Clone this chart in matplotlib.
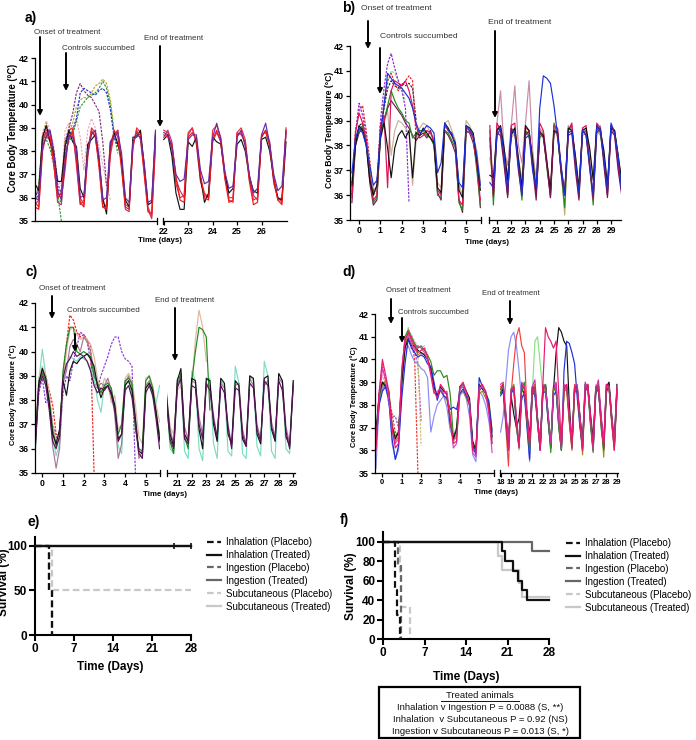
import numpy as np
import matplotlib
matplotlib.use("Agg")
import matplotlib.pyplot as plt
from matplotlib.patches import Rectangle, FancyArrowPatch
from matplotlib.lines import Line2D

plt.rcParams['font.family'] = ['Liberation Sans', 'DejaVu Sans']

# ======================= DATA =======================
# Temperature traces (deg C).
# Each trace = samples starting at a segment start day with a fixed step.
A_L0, A_R0 = -0.5, 22.0
B_L0, B_R0 = -0.33, 20.5
C_L0, C_R0 = -0.33, 20.25
D_L0, D_R0 = -0.33, 18.0
STEP_L = 1 / 6
STEP_RA = 1 / 6
STEP_R = 0.25

# ---- panel a, left segment (treatment period) ----
a_L_red = [35.6, 35.5, 38.0,
           38.7, 38.6, 37.4, 36.0, 36.2, 37.6,
           38.6, 38.8, 37.6, 35.8, 35.6, 38.0,
           38.8, 38.7, 37.3, 35.6, 35.5, 38.0,
           38.9, 38.6, 37.2, 35.6, 35.5, 38.3,
           38.8, 38.7, 37.0, 35.4, 35.3, 38.5]
a_L_red2 = [35.8, 35.6, 38.4,
            38.9, 38.8, 37.8, 36.2, 36.0, 37.2,
            38.9, 39.0, 37.9, 36.0, 35.7, 37.7,
            39.0, 38.8, 37.6, 35.8, 35.6, 37.8,
            38.7, 38.9, 37.5, 35.7, 35.6, 38.1,
            39.0, 38.8, 37.3, 35.6, 35.2, 38.2]
a_L_black = [36.6, 36.3, 38.6,
             39.1, 38.4, 37.9, 36.7, 36.7, 38.2,
             38.9, 38.4, 38.2, 36.4, 36.0, 38.3,
             38.5, 38.7, 37.6, 36.0, 35.3, 38.2,
             38.8, 38.3, 37.6, 35.9, 35.6, 38.6,
             38.6, 38.9, 37.4, 35.7, 35.8, 38.8]
a_L_indigo = [36.0, 35.9, 38.2,
              38.6, 38.9, 38.0, 36.3, 35.9, 37.5,
              38.7, 38.6, 38.1, 36.0, 36.1, 37.9,
              38.7, 38.9, 37.8, 35.9, 36.0, 38.4,
              38.6, 38.8, 37.9, 36.0, 35.8, 38.4,
              38.7, 38.6, 37.5, 35.8, 35.9, 38.9]
a_L_magenta = [35.7, 35.9, 38.5,
               38.8, 38.4, 37.5, 35.8, 35.7, 37.8,
               38.5, 38.9, 37.4, 35.7, 35.9, 38.1,
               38.9, 38.6, 37.5, 35.6, 35.7, 38.4,
               38.7, 38.9, 37.4, 35.5, 35.4, 38.3,
               38.9, 38.5, 37.1, 35.5, 35.1, 38.6]
a_L_purple_pl = [36.0, 36.4, 38.6,
                 39.0, 38.8, 38.0, 36.6, 36.2, 38.4,
                 39.0, 39.6, 40.5, 40.9, 40.6, 40.4,
                 40.3, 40.0, 39.7, 38.4, 36.5]
a_L_blue_pl = [36.2, 36.0, 38.4,
               38.8, 38.7, 37.8, 36.4, 36.1, 38.2,
               38.7, 38.9, 39.4, 40.5, 40.7, 40.6,
               40.5, 40.4, 40.6, 40.7, 40.5, 39.8,
               38.6, 38.2]
a_L_green_pl = [35.9, 36.1, 38.2,
                38.6, 38.5, 37.6, 36.0, 35.8, 38.0,
                38.4, 38.7, 39.3, 39.9, 40.1, 40.3,
                40.4, 40.5, 40.7, 41.0, 40.7, 40.0,
                38.7, 37.9]
a_L_olive_pl = [36.1, 36.3, 38.7,
                39.2, 38.6, 37.9, 36.2, 36.0, 38.5,
                38.8, 39.2, 39.9, 40.2, 40.3, 40.3,
                40.5, 40.8, 40.9, 41.1, 40.9, 40.2,
                38.9]
a_L_green2_pl = [35.8, 36.6, 38.4,
                 38.5, 38.1, 37.4, 36.2, 35.0]
a_L_pink_pl = [36.1, 36.4, 38.8,
               39.3, 38.9, 38.2, 36.8, 36.5, 38.9,
               39.2, 38.8, 39.4, 38.6, 37.2, 38.9,
               39.4, 39.0, 38.2, 37.4, 36.6, 35.9]

# ---- panel a, right segment (days 22-27) ----
a_R_red = [38.7, 38.6, 38.3, 36.9, 35.9, 35.8,
           38.6, 38.8, 38.5, 37.0, 36.0, 35.9,
           38.5, 38.9, 38.4, 36.8, 35.8, 35.9,
           38.7, 38.8, 38.3, 36.7, 35.7, 35.8,
           38.6, 38.9, 38.2, 36.8, 35.9, 35.7,
           38.9]
a_R_red2 = [38.9, 38.8, 38.1, 36.6, 36.0, 36.1,
            38.8, 39.0, 38.4, 36.8, 36.2, 36.0,
            38.9, 39.1, 38.6, 37.1, 35.9, 35.8,
            38.8, 39.0, 38.5, 36.9, 35.9, 36.0,
            38.7, 38.8, 38.3, 36.6, 36.0, 35.8,
            39.0]
a_R_black = [38.5, 38.7, 37.8, 36.2, 35.5, 35.5,
             38.4, 38.2, 38.6, 36.9, 35.8, 36.2,
             38.6, 38.4, 38.3, 37.0, 36.2, 36.4,
             38.3, 38.5, 38.0, 36.9, 36.3, 36.2,
             38.5, 38.6, 38.0, 36.8, 36.0, 35.9,
             38.4]
a_R_indigo = [38.8, 38.7, 38.2, 37.0, 36.7, 36.8,
              38.5, 38.7, 38.7, 37.2, 36.6, 36.7,
              38.6, 39.2, 38.5, 37.1, 36.4, 36.5,
              38.6, 38.9, 38.2, 37.0, 36.2, 36.4,
              38.7, 39.2, 38.3, 37.0, 36.3, 36.5,
              38.8]
a_R_magenta = [38.6, 38.9, 38.4, 36.8, 36.3, 36.0,
               38.7, 39.0, 38.3, 36.7, 36.1, 36.0,
               38.4, 38.8, 38.4, 36.9, 36.0, 36.0,
               38.8, 38.7, 38.4, 36.8, 36.1, 35.9,
               38.6, 38.9, 38.4, 36.7, 35.9, 36.0,
               38.9]

# ---- panel b, left ----
b_L_green = [36.0, 38.2,
             38.6, 38.8, 38.1, 36.9, 35.7, 35.9,
             38.4, 39.0, 39.6, 40.2, 39.8, 39.5,
             39.3, 39.0, 38.9, 38.3, 38.5, 38.6,
             38.6, 38.4, 38.3, 38.0, 36.0, 35.9,
             38.6, 38.5, 38.2, 37.9, 35.7, 35.4,
             38.5, 38.6, 38.3, 37.0, 35.6]
b_L_blue = [36.9, 38.3,
            38.7, 38.5, 38.0, 37.2, 36.4, 36.6,
            38.4, 39.6, 40.9, 40.7, 40.5, 40.4,
            40.3, 40.1, 39.9, 39.5, 38.9, 38.5,
            38.6, 38.8, 38.7, 38.5, 36.9, 37.3,
            38.9, 38.6, 38.5, 38.0, 36.5, 36.3,
            38.8, 38.6, 38.4, 37.6, 36.4]
b_L_black = [36.4, 38.0,
             38.8, 38.6, 38.0, 36.6, 36.0, 36.4,
             38.3, 38.9, 37.9, 36.7, 37.9, 38.4,
             38.6, 38.3, 38.6, 36.7, 38.5, 38.4,
             38.7, 38.5, 38.3, 38.1, 36.3, 36.1,
             38.9, 38.7, 38.4, 38.1, 36.2, 35.9,
             38.8, 38.7, 38.5, 37.4, 36.2]
b_L_crimson = [35.9, 38.5,
               39.3, 38.9, 38.2, 36.8, 35.8, 36.0,
               38.8, 39.2, 36.3, 40.2, 40.6, 40.5,
               40.4, 40.6, 40.2, 39.6, 38.8, 38.3,
               38.4, 38.6, 38.5, 38.2, 36.2, 36.0,
               38.8, 38.6, 38.4, 38.0, 35.8, 35.6,
               38.7, 38.6, 38.3, 37.2, 35.8]
b_L_plum = [35.7, 38.0,
            38.5, 38.7, 38.2, 36.5, 35.6, 35.8,
            38.5, 39.0, 39.5, 39.8, 39.6, 39.4,
            39.2, 38.9, 38.7, 38.4, 38.2, 38.4,
            38.5, 38.3, 38.6, 38.1, 36.1, 35.8,
            38.6, 38.4, 38.1, 37.7, 35.8, 35.3,
            38.6, 38.5, 38.1, 37.3, 35.5]
b_L_tan = [36.2, 38.1,
           38.6, 38.7, 38.3, 37.0, 36.3, 36.1,
           38.2, 38.9, 39.4, 37.6, 38.6, 39.0,
           38.9, 38.7, 38.5, 36.4, 38.2, 38.7,
           38.9, 38.8, 38.5, 38.3, 36.5, 36.3,
           38.9, 39.0, 38.6, 38.2, 36.4, 36.0,
           39.0, 38.8, 38.4, 37.8, 36.5]
b_L_purple_pl = [36.3, 38.5,
                 39.7, 39.2, 38.4, 37.2, 36.1, 36.3,
                 39.0, 40.3, 41.3, 41.7, 41.1, 40.6,
                 40.2, 39.5, 35.7]
b_L_red_pl = [36.0, 38.6,
              39.4, 39.6, 38.6, 37.4, 36.0, 36.4,
              38.7, 39.7, 40.6, 40.9, 40.5, 40.2,
              40.4, 40.6, 40.8, 40.6, 38.3]
b_L_black_pl = [36.5, 38.2,
                38.8, 38.9, 38.2, 37.0, 36.2, 36.3,
                38.7, 39.5, 40.3, 40.6, 40.4, 40.3,
                40.5, 40.4, 40.5, 40.3, 39.0]
b_L_lgreen_pl = [36.1, 38.0,
                 38.6, 38.7, 38.3, 37.0, 36.0, 36.1,
                 38.6, 39.5, 40.5, 41.0, 40.9, 40.6,
                 40.3, 39.8]

# ---- panel b, right ----
b_R_green = [38.6, 35.6,
             38.7, 38.6, 37.4, 36.0, 38.5, 38.7, 37.2, 35.8,
             38.6, 38.4, 37.5, 36.1, 38.3, 38.5, 37.1, 36.0,
             38.9, 38.4, 36.9, 35.5, 38.6, 38.8, 37.3, 35.9,
             38.5, 38.6, 37.2, 35.6, 38.7, 38.5, 37.4, 36.0,
             38.8, 38.6, 37.5, 36.2]
b_R_blue = [36.5, 36.3,
            38.4, 38.7, 37.6, 36.2, 38.6, 38.5, 37.3, 36.0,
            38.3, 38.4, 37.0, 36.3, 39.5, 40.8, 40.7, 40.5,
            39.6, 38.4, 37.2, 36.0, 38.5, 38.6, 37.4, 36.1,
            38.6, 38.4, 37.3, 36.0, 38.8, 38.6, 37.5, 36.2,
            38.9, 38.5, 37.6, 36.1]
b_R_black = [36.8, 36.7,
             38.6, 38.8, 37.9, 36.6, 38.4, 38.7, 37.5, 36.3,
             38.8, 38.6, 37.4, 36.1, 38.5, 38.4, 37.3, 36.2,
             38.6, 38.5, 37.0, 36.0, 38.7, 38.6, 37.6, 36.3,
             38.6, 38.7, 37.9, 36.6, 38.8, 38.6, 37.8, 36.4,
             38.7, 38.6, 37.6, 36.6]
b_R_crimson = [38.8, 35.9,
               38.9, 38.6, 37.5, 36.0, 38.8, 38.9, 37.2, 36.1,
               38.7, 38.6, 37.3, 36.2, 38.9, 38.6, 37.4, 35.9,
               38.8, 38.7, 37.1, 36.1, 38.6, 38.9, 37.4, 36.0,
               38.7, 38.8, 37.3, 35.8, 38.9, 38.7, 37.5, 36.0,
               38.8, 38.5, 37.2, 36.2]
b_R_plum = [38.3, 36.0,
            38.5, 38.4, 37.2, 35.9, 38.7, 38.5, 37.0, 36.0,
            38.4, 38.6, 37.1, 35.8, 38.6, 38.3, 37.2, 35.9,
            38.5, 38.6, 36.9, 36.0, 38.4, 38.5, 37.0, 35.8,
            38.6, 38.4, 37.1, 35.9, 38.5, 38.7, 37.2, 35.9,
            38.6, 38.4, 37.0, 36.0]
b_R_tan = [37.5, 36.5,
           38.4, 38.6, 37.8, 36.8, 38.3, 38.5, 37.5, 36.6,
           38.6, 38.3, 37.6, 36.4, 38.4, 38.6, 37.3, 36.3,
           38.7, 38.3, 37.1, 35.2, 38.5, 38.6, 37.6, 36.2,
           38.4, 38.5, 37.8, 36.7, 38.6, 38.4, 37.6, 36.5,
           38.5, 38.6, 37.4, 36.7]
b_R_mauve = [38.0, 36.3,
             38.9, 40.2, 37.8, 37.2, 38.8, 40.4, 38.0, 37.3,
             38.9, 40.6, 37.8, 36.6, 38.7, 38.5, 37.2, 36.1,
             38.6, 38.4, 37.0, 36.0, 38.8, 38.6, 37.3, 36.2,
             38.7, 38.5, 37.1, 36.0, 38.6, 38.8, 37.4, 36.2,
             38.7, 38.5, 37.3, 36.3]

# ---- panel c, left ----
c_L_green = [36.2, 38.8,
             39.1, 38.8, 38.0, 36.8, 36.1, 36.5,
             39.2, 40.3, 41.0, 41.0, 40.0, 39.9,
             40.0, 39.9, 39.8, 39.0, 38.7, 38.3,
             38.6, 38.7, 38.5, 37.7, 36.6, 37.0,
             38.8, 38.9, 38.7, 36.8, 36.0, 35.9,
             38.8, 39.0, 38.5, 37.4, 36.3]
c_L_black = [36.4, 38.7,
             39.3, 38.9, 37.9, 36.6, 36.2, 36.8,
             38.8, 38.2, 39.2, 39.6, 39.5, 39.7,
             39.8, 39.9, 39.7, 39.4, 38.6, 38.1,
             38.5, 38.6, 38.3, 37.8, 36.4, 36.6,
             38.6, 38.8, 38.4, 37.2, 35.9, 35.8,
             38.5, 38.7, 38.4, 37.5, 36.4]
c_L_plum = [36.1, 38.5,
            39.0, 38.6, 37.6, 36.3, 36.0, 36.5,
            38.9, 39.5, 39.7, 40.0, 39.8, 39.9,
            39.8, 39.6, 39.2, 38.6, 38.3, 38.5,
            38.4, 38.6, 38.2, 37.6, 36.3, 36.6,
            38.4, 38.6, 38.1, 37.0, 35.8, 35.6,
            38.3, 38.6, 38.2, 37.2, 36.0]
c_L_tan = [36.5, 38.9,
           39.4, 39.0, 38.3, 37.0, 36.3, 36.7,
           38.8, 40.0, 40.9, 41.0, 40.7, 40.5,
           40.6, 40.5, 40.3, 39.8, 38.9, 38.3,
           38.9, 38.7, 37.9, 38.2, 36.8, 37.0,
           38.9, 39.1, 38.8, 37.8, 36.5, 36.2,
           38.9, 39.0, 38.6, 37.8, 37.1]
c_L_mauve = [36.3, 38.6,
             39.2, 38.7, 37.8, 36.1, 35.2, 36.0,
             38.7, 39.2, 40.2, 40.5, 40.3, 40.0,
             40.6, 40.4, 40.0, 39.2, 38.5, 38.7,
             38.6, 38.9, 38.4, 37.4, 35.6, 36.2,
             38.7, 39.0, 38.6, 37.3, 35.6, 35.9,
             38.6, 38.8, 38.3, 37.5, 36.6]
c_L_teal = [36.0, 38.8,
            40.1, 39.0, 38.0, 36.5, 35.7, 36.2,
            38.7, 39.4, 39.8, 39.7, 39.6, 39.8,
            39.7, 39.6, 39.3, 38.9, 38.0, 37.5,
            38.6, 38.5, 38.2, 37.5, 36.1, 35.8,
            38.6, 38.8, 38.2, 37.0, 35.8, 35.7,
            38.5, 38.7, 38.1, 37.9, 38.6]
c_L_red_pl = [36.3, 38.9,
              39.1, 39.0, 38.4, 37.8, 36.6, 36.5,
              39.0, 40.3, 41.5, 41.3, 40.8, 40.6,
              40.7, 40.5, 40.2, 35.0]
c_L_purple_pl = [36.4, 38.3,
                 38.9, 37.9, 38.2, 37.0, 36.5, 36.3,
                 38.3, 39.0, 38.8, 39.6, 40.2, 40.8,
                 40.7, 40.4, 39.6, 38.7, 38.5, 39.0,
                 39.4, 39.8, 40.3, 40.6, 40.6, 40.0,
                 39.7, 39.6, 39.4, 35.0]

# ---- panel c, right ----
c_R_black = [38.2, 36.6, 36.1,
             38.8, 39.3, 36.6, 36.3, 38.9, 38.8, 36.8, 36.0,
             38.9, 38.8, 37.0, 36.3, 38.9, 38.7, 36.6, 36.2,
             38.8, 38.6, 36.4, 36.1, 39.0, 38.9, 36.6, 36.2,
             38.9, 39.0, 36.8, 36.3, 39.1, 38.8, 36.5, 36.1,
             38.8]
c_R_plum = [38.0, 36.4, 36.0,
            38.5, 38.9, 36.4, 36.2, 38.6, 38.5, 37.0, 36.4,
            38.7, 38.4, 37.2, 36.5, 38.6, 38.3, 36.9, 36.0,
            38.5, 38.4, 36.6, 36.1, 38.7, 38.5, 36.8, 36.3,
            38.8, 38.6, 36.9, 36.4, 38.8, 38.4, 36.7, 36.0,
            38.6]
c_R_mauve = [38.3, 36.8, 36.2,
             38.7, 38.9, 36.9, 36.4, 38.8, 38.7, 37.3, 36.6,
             38.5, 38.6, 37.4, 36.4, 38.7, 38.5, 37.0, 36.1,
             38.6, 38.7, 36.8, 36.2, 38.9, 38.6, 37.0, 36.4,
             38.6, 38.8, 37.1, 36.5, 38.9, 38.7, 36.9, 36.2,
             38.7]
c_R_teal = [38.4, 36.0, 35.8,
            38.9, 39.0, 35.9, 35.6, 39.2, 38.8, 36.0, 35.5,
            38.8, 38.9, 36.2, 35.6, 38.8, 38.6, 35.9, 35.7,
            39.4, 38.7, 35.8, 35.6, 39.0, 38.8, 36.1, 35.7,
            39.6, 39.0, 35.9, 35.6, 38.9, 38.8, 36.0, 35.8,
            38.8]
c_R_green = [38.0, 36.3, 35.8,
             38.6, 39.1, 36.5, 36.0, 38.8, 40.0, 41.0, 40.9,
             40.6, 37.6]
c_R_tan = [38.2, 36.9, 36.6,
           38.4, 38.6, 36.8, 36.4, 38.6, 40.5, 41.7, 41.0,
           39.6]

# ---- panel d, left ----
d_L_black = [36.8, 38.5,
             39.0, 38.8, 38.4, 37.0, 36.5, 36.8,
             39.0, 40.5, 40.9, 40.6, 40.6, 40.4,
             40.3, 40.2, 40.0, 39.6, 38.8, 38.4,
             38.8, 38.6, 38.5, 37.2, 36.5, 36.9,
             38.8, 38.9, 38.6, 38.3, 36.4, 36.0,
             38.9, 38.7, 38.5, 37.9, 36.6]
d_L_blue = [36.3, 38.0,
            38.6, 38.8, 38.2, 36.5, 35.6, 36.2,
            38.3, 39.8, 40.9, 40.5, 40.3, 40.1,
            40.2, 40.1, 39.8, 39.7, 39.0, 38.2,
            38.7, 38.4, 38.3, 37.8, 37.9, 37.8,
            38.5, 38.7, 38.4, 38.0, 36.2, 35.8,
            39.2, 38.8, 38.6, 38.1, 36.8]
d_L_green = [36.5, 38.3,
             39.0, 38.9, 38.6, 37.1, 36.6, 36.8,
             39.3, 41.0, 41.3, 41.0, 40.7, 40.5,
             40.6, 40.4, 40.2, 39.9, 39.3, 39.5,
             39.5, 39.2, 39.3, 38.5, 36.6, 37.0,
             38.7, 38.8, 38.5, 38.1, 36.2, 36.0,
             38.6, 38.8, 38.5, 38.2, 36.9]
d_L_crimson = [36.0, 38.6,
               40.0, 39.3, 38.6, 37.0, 36.1, 36.3,
               39.5, 40.8, 41.2, 40.9, 40.6, 40.3,
               40.4, 40.5, 40.1, 39.4, 38.6, 38.3,
               38.9, 38.7, 38.4, 37.4, 36.3, 36.4,
               38.8, 39.0, 38.6, 38.0, 36.0, 35.9,
               38.8, 38.9, 38.6, 37.8, 36.3]
d_L_lblue = [35.2, 38.2,
             38.7, 38.9, 38.3, 36.3, 35.6, 36.0,
             38.9, 40.4, 40.6, 40.2, 39.9, 39.8,
             39.6, 39.5, 39.2, 36.8, 37.5, 38.0,
             38.2, 38.4, 37.9, 36.9, 36.5, 36.7,
             38.4, 38.6, 38.3, 37.5, 35.8, 35.5,
             38.6, 38.4, 38.0, 37.3, 36.3]
d_L_olive = [36.4, 38.4,
             38.8, 39.1, 38.5, 36.8, 36.4, 36.6,
             38.9, 40.6, 41.0, 40.8, 40.5, 40.2,
             40.3, 40.2, 40.0, 39.5, 38.7, 38.5,
             38.6, 38.4, 38.2, 37.6, 36.4, 36.6,
             38.5, 38.6, 38.3, 38.0, 36.2, 36.1,
             38.5, 38.6, 38.3, 38.0, 36.5]
d_L_pink = [36.2, 38.4,
            39.6, 39.1, 38.3, 36.9, 36.3, 36.5,
            39.6, 40.9, 41.1, 40.7, 40.4, 40.6,
            40.5, 40.3, 40.0, 39.3, 38.5, 38.6,
            38.7, 38.5, 38.6, 37.5, 36.1, 36.3,
            38.7, 38.9, 38.5, 38.1, 35.9, 35.7,
            38.7, 38.8, 38.5, 37.6, 35.9]
d_L_red_pl = [36.2, 38.5, 39.8, 39.0, 38.3, 37.6, 36.8, 36.5,
              39.2, 40.6, 41.2, 40.8, 40.0, 35.0]
d_L_olive_pl = [36.6, 38.3, 38.9, 38.7, 38.2, 37.2, 36.6, 36.9,
                39.0, 40.8, 41.4, 41.0, 40.6, 40.2, 36.2]
d_L_purple_pl = [36.4, 38.1, 38.7, 38.9, 38.0, 37.5, 37.5, 37.0,
                 38.8, 40.7, 41.0, 40.6, 40.3, 39.8, 37.3]
d_L_pink_pl = [36.5, 38.6, 39.3, 38.8, 38.1, 37.0, 36.6, 36.9,
               39.2, 40.9, 41.3, 41.1, 40.8, 40.6, 40.5, 40.6, 40.2]

# ---- panel d, right ----
d_R_green = [38.5, 38.9, 37.3, 36.0, 38.7, 38.8, 37.0, 36.1,
             38.6, 39.0, 37.2, 36.0, 38.5, 38.7, 37.1, 36.1,
             38.8, 38.9, 37.4, 35.9, 38.6, 38.8, 37.0, 36.0,
             38.7, 38.9, 37.3, 36.1, 38.5, 38.8, 37.2, 36.0,
             38.9, 38.7, 37.1, 35.9, 38.6, 38.9, 37.0, 36.0,
             38.7, 38.8, 37.4, 36.2, 38.6]
d_R_olive = [38.7, 38.6, 37.6, 36.2, 38.5, 38.9, 37.4, 36.3,
             38.8, 38.7, 37.5, 36.2, 38.6, 38.9, 37.3, 36.1,
             38.5, 38.8, 37.6, 36.3, 38.8, 38.6, 37.1, 36.0,
             38.6, 38.8, 37.5, 36.2, 38.7, 38.6, 37.3, 35.8,
             38.6, 38.9, 37.2, 36.1, 38.8, 38.7, 37.5, 35.7,
             38.5, 38.9, 37.3, 36.0, 38.4]
d_R_magenta = [38.9, 39.0, 37.7, 36.3, 38.7, 38.8, 37.5, 36.2,
               39.0, 38.8, 37.6, 36.4, 38.8, 39.1, 37.4, 36.2,
               38.9, 38.7, 37.6, 36.3, 38.7, 39.0, 37.3, 36.1,
               38.9, 38.8, 37.6, 36.4, 38.8, 38.9, 37.5, 36.2,
               39.0, 38.7, 37.4, 36.0, 38.7, 39.1, 37.6, 36.3,
               38.9, 38.8, 37.5, 36.3, 38.8]
d_R_lblue = [36.8, 37.5, 39.0, 40.4, 41.0, 41.2, 40.6, 39.5,
             38.2, 38.5, 37.2, 35.5, 38.6, 38.8, 37.3, 36.0,
             38.5, 38.9, 37.4, 36.2, 38.7, 38.8, 37.2, 36.1,
             38.6, 38.7, 37.5, 36.2, 38.8, 38.6, 37.3, 36.0,
             38.7, 38.9, 37.4, 36.1, 38.6, 38.8, 37.5, 36.2,
             38.7, 38.9, 37.3, 36.0, 38.5]
d_R_red = [38.8, 38.9, 37.0, 35.3, 38.5, 39.8, 41.0, 41.4,
           40.6, 40.3, 37.8, 36.2, 38.7, 38.9, 37.2, 36.0,
           38.6, 38.8, 37.3, 36.1, 38.8, 38.9, 37.4, 36.2,
           38.7, 38.6, 37.2, 36.0, 38.9, 38.8, 37.5, 36.3,
           38.6, 38.9, 37.3, 36.1, 38.8, 38.7, 37.4, 36.0,
           38.6, 38.8, 37.2, 36.1, 38.7]
d_R_lgreen = [38.6, 38.8, 37.4, 36.1, 38.7, 38.9, 37.3, 36.0,
              38.8, 38.7, 37.5, 36.2, 38.5, 40.8, 41.0, 39.8,
              38.6, 38.8, 37.2, 36.1, 38.7, 38.6, 37.4, 36.0,
              38.8, 38.9, 37.3, 36.2, 38.6, 38.7, 37.5, 36.1,
              38.7, 38.8, 37.2, 36.0, 38.9, 38.7, 37.4, 36.2,
              38.6, 38.8, 37.3, 36.1, 38.7]
d_R_crimson = [38.7, 38.9, 37.3, 36.0, 38.6, 38.8, 37.2, 36.1,
               38.9, 38.7, 37.4, 36.2, 38.6, 38.8, 37.3, 36.0,
               38.9, 41.4, 41.0, 40.8, 40.5, 40.8, 38.5, 36.2,
               38.7, 38.9, 37.4, 36.1, 38.8, 38.7, 37.3, 36.0,
               38.6, 38.9, 37.5, 36.2, 38.8, 38.7, 37.2, 36.1,
               38.9, 38.8, 37.4, 36.0, 38.7]
d_R_black = [38.5, 38.7, 37.5, 36.4, 38.4, 37.6, 37.0, 37.4,
             38.7, 38.5, 37.6, 36.6, 38.8, 38.6, 37.4, 36.3,
             38.7, 38.9, 37.5, 36.2, 38.6, 40.3, 41.4, 41.2,
             40.8, 40.6, 38.0, 36.3, 38.8, 38.7, 37.5, 36.4,
             38.9, 38.8, 37.6, 36.5, 38.7, 38.9, 37.4, 36.3,
             38.8, 39.0, 37.6, 36.4, 38.9]
d_R_blue = [38.4, 38.6, 37.2, 36.0, 38.5, 38.7, 37.1, 36.2,
            38.3, 38.5, 37.0, 35.6, 38.6, 38.4, 37.2, 36.0,
            38.5, 38.6, 37.3, 36.1, 38.4, 38.6, 37.1, 36.0,
            39.5, 40.8, 40.7, 40.3, 39.8, 38.3, 37.0, 36.1,
            38.6, 38.8, 37.3, 36.0, 38.5, 38.7, 37.2, 36.1,
            38.6, 38.8, 37.4, 36.2, 38.6]

# ---- survival data (percent) ----
days_max = 28
e_inh_pl_t, e_inh_pl_s = [0, 2.6, 3.0], [100, 50, 0]
e_inh_tr_t, e_inh_tr_s = [0, 28], [100, 100]
e_ing_pl_t, e_ing_pl_s = [0, 2.6, 3.0], [100, 50, 0]
e_ing_tr_t, e_ing_tr_s = [0, 28], [100, 100]
e_sc_pl_t, e_sc_pl_s = [0, 3.0, 28], [100, 50, 50]
e_sc_tr_t, e_sc_tr_s = [0, 28], [100, 100]
e_censor_t, e_censor_s = [25, 28], [100, 100]

f_inh_pl_t, f_inh_pl_s = [0, 2.0, 2.4, 2.9], [100, 50, 25, 0]
f_ing_pl_t, f_ing_pl_s = [0, 2.5, 3.1], [100, 75, 0]
f_sc_pl_t, f_sc_pl_s = [0, 2.8, 3.0, 4.5], [100, 66.7, 33.3, 0]
f_inh_tr_t = [0, 20.0, 20.5, 22.0, 22.7, 23.5, 24.3, 28]
f_inh_tr_s = [100, 90, 80, 70, 60, 50, 40, 40]
f_ing_tr_t, f_ing_tr_s = [0, 25.2, 28], [100, 90.9, 90.9]
f_sc_tr_t = [0, 19.4, 20.0, 23.0, 23.4, 28]
f_sc_tr_s = [100, 85.7, 71.4, 57.1, 42.9, 42.9]

legend_labels = ["Inhalation (Placebo)", "Inhalation (Treated)",
                 "Ingestion (Placebo)", "Ingestion (Treated)",
                 "Subcutaneous (Placebo)", "Subcutaneous (Treated)"]
stats_lines = ["Treated animals",
               "Inhalation v Ingestion P = 0.0088 (S, **)",
               "Inhalation  v Subcutaneous P = 0.92 (NS)",
               "Ingestion v Subcutaneous P = 0.013 (S, *)"]

# ======================= FIGURE =======================
W, H = 696, 740
fig = plt.figure(figsize=(W / 100, H / 100), dpi=100)


def fx(x):
    return x / W


def fy(y):
    return 1 - y / H


def px_axes(x0, y0, x1, y1):
    return fig.add_axes([fx(x0), fy(y1), (x1 - x0) / W, (y1 - y0) / H])


DASH = (0, (2.0, 1.1))


def trace(ax, t0, dt, vals, color, dashed=False, lw=0.85):
    t = t0 + dt * np.arange(len(vals))
    ax.plot(t, vals, color=color, lw=lw, ls=DASH if dashed else '-',
            solid_joinstyle='round')


def style_temp_axes(axL, axR, xlimL, xlimR, ticksL, ticksR, tfs):
    for ax in (axL, axR):
        ax.set_ylim(35, 42)
        for s in ('top', 'right'):
            ax.spines[s].set_visible(False)
        ax.spines['bottom'].set_linewidth(0.9)
        ax.spines['left'].set_linewidth(0.9)
        ax.tick_params(direction='out', length=3, width=0.9, pad=1.2,
                       labelsize=tfs)
        ax.patch.set_alpha(0)
    axL.set_xlim(*xlimL)
    axR.set_xlim(*xlimR)
    axL.set_yticks(range(35, 43))
    axL.set_yticklabels([str(v) for v in range(35, 43)], fontsize=6.5,
                        fontweight='bold')
    axR.spines['left'].set_visible(False)
    axR.tick_params(left=False, labelleft=False)
    if ticksL:
        axL.set_xticks(ticksL)
        axL.set_xticklabels([str(v) for v in ticksL], fontweight='bold')
    else:
        axL.set_xticks([])
    axR.set_xticks(ticksR)
    axR.set_xticklabels([str(v) for v in ticksR], fontweight='bold')
    # break marks
    axL.plot([1, 1], [-0.018, 0.018], transform=axL.transAxes, color='black',
             lw=0.9, clip_on=False)
    axR.plot([0, 0], [-0.018, 0.018], transform=axR.transAxes, color='black',
             lw=0.9, clip_on=False)


def arrow(x, y0, y1):
    fig.add_artist(FancyArrowPatch((fx(x), fy(y0)), (fx(x), fy(y1)),
                                   transform=fig.transFigure,
                                   arrowstyle='-|>', mutation_scale=7,
                                   lw=1.4, color='black',
                                   shrinkA=0, shrinkB=0))


def note(x, y, s, fs=5.8):
    fig.text(fx(x), fy(y), s, fontsize=fs, color='#333333', ha='left',
             va='center')


def ylab_temp(x, y, fs):
    fig.text(fx(x), fy(y), "Core Body Temperature (\u00b0C)", rotation=90,
             fontsize=fs, fontweight='bold', ha='center', va='center')


def xlab_temp(x, y):
    fig.text(fx(x), fy(y), "Time (days)", fontsize=5.7, fontweight='bold',
             ha='center', va='center')


def panel_label(x, y, s):
    fig.text(fx(x), fy(y), s, fontsize=10, fontweight='bold', ha='left',
             va='center')


# ---------------- panel a ----------------
aL = px_axes(35, 58, 157, 221)
aR = px_axes(163, 58, 287, 221)
style_temp_axes(aL, aR, (-0.5, 4.9), (21.97, 27.04), None,
                [22, 23, 24, 25, 26], 6.3)
for vals, col in [(a_L_pink_pl, '#e8b0b8'), (a_L_green2_pl, '#2e9a2e'),
                  (a_L_olive_pl, '#b8a828'), (a_L_green_pl, '#2e9a2e'),
                  (a_L_blue_pl, '#2438d8'), (a_L_purple_pl, '#80307a')]:
    trace(aL, A_L0, STEP_L, vals, col, dashed=True)
for vals, col in [(a_L_magenta, '#c0307a'), (a_L_red2, '#e8303a'),
                  (a_L_black, '#151515'), (a_L_red, '#f01818'),
                  (a_L_indigo, '#6a2aa8')]:
    trace(aL, A_L0, STEP_L, vals, col)
for vals, col in [(a_R_magenta, '#c0307a'), (a_R_red2, '#e8303a'),
                  (a_R_black, '#151515'), (a_R_red, '#f01818'),
                  (a_R_indigo, '#6a2aa8')]:
    trace(aR, A_R0, STEP_RA, vals, col)
panel_label(25, 18, "a)")
ylab_temp(13, 128, 6.9)
xlab_temp(160, 240)
note(34, 33, "Onset of treatment")
arrow(40, 37, 116)
note(62, 49, "Controls succumbed")
arrow(66, 53, 91)
note(144, 38, "End of treatment")
arrow(160, 46, 127)

# ---------------- panel b ----------------
bL = px_axes(350, 46, 481, 220)
bR = px_axes(489, 46, 621, 220)
style_temp_axes(bL, bR, (-0.42, 5.70), (20.44, 29.70), [0, 1, 2, 3, 4, 5],
                list(range(21, 30)), 6.2)
for vals, col in [(b_L_lgreen_pl, '#90d890'), (b_L_black_pl, '#222222'),
                  (b_L_red_pl, '#f02020'), (b_L_purple_pl, '#8a2ad0')]:
    trace(bL, B_L0, STEP_L, vals, col, dashed=True)
for vals, col in [(b_L_tan, '#c8b298'), (b_L_plum, '#7a1458'),
                  (b_L_green, '#248a1c'), (b_L_crimson, '#e0105a'),
                  (b_L_black, '#111111'), (b_L_blue, '#1c30d8')]:
    trace(bL, B_L0, STEP_L, vals, col)
for vals, col in [(b_R_mauve, '#c88aa8'), (b_R_tan, '#c0aa70'),
                  (b_R_green, '#248a1c'), (b_R_crimson, '#e0105a'),
                  (b_R_black, '#111111'), (b_R_plum, '#7a1458'),
                  (b_R_blue, '#1c30d8')]:
    trace(bR, B_R0, STEP_R, vals, col)
panel_label(342, 8, "b)")
ylab_temp(329, 130, 6.2)
xlab_temp(487, 243)
note(361, 8, "Onset of treatment", 6.1)
arrow(368, 21, 49)
note(380, 36, "Controls succumbed", 6.1)
arrow(380, 48, 94)
note(488, 22, "End of treatment", 6.1)
arrow(495, 31, 118)

# ---------------- panel c ----------------
cL = px_axes(35, 303, 160, 473)
cR = px_axes(167, 303, 295, 473)
style_temp_axes(cL, cR, (-0.35, 5.69), (20.29, 29.12), [0, 1, 2, 3, 4, 5],
                list(range(21, 30)), 6.2)
for vals, col in [(c_L_purple_pl, '#8a3ad8'), (c_L_red_pl, '#f02020')]:
    trace(cL, C_L0, STEP_L, vals, col, dashed=True)
for vals, col in [(c_L_teal, '#7cdcc4'), (c_L_tan, '#dcb8a0'),
                  (c_L_mauve, '#a67896'), (c_L_green, '#1e8a1e'),
                  (c_L_black, '#111111'), (c_L_plum, '#5a125a')]:
    trace(cL, C_L0, STEP_L, vals, col)
for vals, col in [(c_R_teal, '#7cdcc4'), (c_R_tan, '#e0b8a0'),
                  (c_R_green, '#1e8a1e'), (c_R_mauve, '#a67896'),
                  (c_R_black, '#111111'), (c_R_plum, '#5a125a')]:
    trace(cR, C_R0, STEP_R, vals, col)
panel_label(25, 272, "c)")
ylab_temp(13, 395, 5.4)
xlab_temp(165, 494)
note(39, 288, "Onset of treatment")
arrow(52, 296, 319)
note(67, 311, "Controls succumbed")
arrow(75, 334, 352)
note(155, 300, "End of treatment")
arrow(175, 308, 361)

# ---------------- panel d ----------------
dL = px_axes(375, 314, 494, 473)
dR = px_axes(500, 314, 618, 473)
style_temp_axes(dL, dR, (-0.38, 5.77), (17.95, 29.1), [0, 1, 2, 3, 4, 5],
                list(range(18, 30)), 5.5)
for vals, col in [(d_L_pink_pl, '#f0a0c8'), (d_L_purple_pl, '#9a40c8'),
                  (d_L_olive_pl, '#c8c070'), (d_L_red_pl, '#f03030')]:
    trace(dL, D_L0, STEP_L, vals, col, dashed=True)
for vals, col in [(d_L_lblue, '#8a8cf4'), (d_L_olive, '#9a8a1e'),
                  (d_L_green, '#2c8c1c'), (d_L_black, '#111111'),
                  (d_L_blue, '#1c2fd6'), (d_L_pink, '#e040c0'),
                  (d_L_crimson, '#e8186a')]:
    trace(dL, D_L0, STEP_L, vals, col)
for vals, col in [(d_R_lblue, '#8a8cf4'), (d_R_lgreen, '#88e088'),
                  (d_R_red, '#f04040'), (d_R_olive, '#9a8a1e'),
                  (d_R_black, '#111111'), (d_R_blue, '#1c2fd6'),
                  (d_R_green, '#2c8c1c'), (d_R_magenta, '#d030b0'),
                  (d_R_crimson, '#e8186a')]:
    trace(dR, D_R0, STEP_R, vals, col)
panel_label(342, 272, "d)")
ylab_temp(354, 397, 5.4)
xlab_temp(496, 493)
note(386, 291, "Onset of treatment", 5.6)
arrow(391, 299, 324)
note(398, 312, "Controls succumbed", 5.6)
arrow(402, 318, 343)
note(482, 293, "End of treatment", 5.6)
arrow(510, 301, 325)


# ---------------- survival panels ----------------
def style_surv(ax, yticks):
    ax.set_xlim(0, days_max)
    ax.set_ylim(0, 110)
    for s in ('top', 'right'):
        ax.spines[s].set_visible(False)
    for s in ('left', 'bottom'):
        ax.spines[s].set_linewidth(1.5)
    ax.set_xticks([0, 7, 14, 21, 28])
    ax.set_xticklabels(['0', '7', '14', '21', '28'], fontweight='bold')
    ax.set_yticks(yticks)
    ax.set_yticklabels([str(v) for v in yticks], fontweight='bold')
    ax.tick_params(direction='out', length=4, width=1.5, labelsize=8.5,
                   pad=1.5)
    ax.patch.set_alpha(0)


PL_DASH = (0, (3.0, 1.6))
C_BLACK, C_DARK, C_LIGHT = '#111111', '#666666', '#c8c8c8'


def surv(ax, t, s, color, dashed, lw=1.6, z=2):
    return ax.step(t, s, where='post', color=color, lw=lw,
                   ls=PL_DASH if dashed else '-', clip_on=False, zorder=z)[0]


# panel e
axE = px_axes(35, 537, 191, 635)
style_surv(axE, [0, 50, 100])
hE = [None] * 6
hE[5] = surv(axE, e_sc_tr_t, e_sc_tr_s, C_LIGHT, False, z=1)
hE[4] = surv(axE, e_sc_pl_t, e_sc_pl_s, C_LIGHT, True, z=1)
hE[3] = surv(axE, e_ing_tr_t, e_ing_tr_s, C_DARK, False, z=2)
hE[2] = surv(axE, e_ing_pl_t, e_ing_pl_s, C_DARK, True, z=2)
hE[1] = surv(axE, e_inh_tr_t, e_inh_tr_s, C_BLACK, False, z=3)
hE[0] = surv(axE, e_inh_pl_t, e_inh_pl_s, C_BLACK, True, z=4)
axE.plot(e_censor_t, e_censor_s, ls='none', marker='|', ms=4, mew=1.2,
         color=C_BLACK, clip_on=False, zorder=5)
axE.legend(hE, legend_labels, loc='upper left',
           bbox_to_anchor=(fx(207), fy(537)), bbox_transform=fig.transFigure,
           frameon=False, fontsize=7, handlelength=1.4, handletextpad=0.6,
           labelspacing=0.3, borderpad=0, borderaxespad=0)
panel_label(28, 522, "e)")
fig.text(fx(4.5), fy(582), "Survival (%)", rotation=90, fontsize=8.5,
         fontweight='bold', ha='center', va='center')
fig.text(fx(110), fy(667), "Time (Days)", fontsize=8.5, fontweight='bold',
         ha='center', va='center')

# panel f
axF = px_axes(383, 532, 549, 639)
style_surv(axF, [0, 20, 40, 60, 80, 100])
hF = [None] * 6
hF[5] = surv(axF, f_sc_tr_t, f_sc_tr_s, C_LIGHT, False, z=1)
hF[4] = surv(axF, f_sc_pl_t, f_sc_pl_s, C_LIGHT, True, z=1)
hF[3] = surv(axF, f_ing_tr_t, f_ing_tr_s, C_DARK, False, z=2)
hF[2] = surv(axF, f_ing_pl_t, f_ing_pl_s, C_DARK, True, z=2)
hF[1] = surv(axF, f_inh_tr_t, f_inh_tr_s, C_BLACK, False, z=3)
hF[0] = surv(axF, f_inh_pl_t, f_inh_pl_s, C_BLACK, True, z=4)
axF.legend(hF, legend_labels, loc='upper left',
           bbox_to_anchor=(fx(566), fy(538)), bbox_transform=fig.transFigure,
           frameon=False, fontsize=7, handlelength=1.4, handletextpad=0.6,
           labelspacing=0.3, borderpad=0, borderaxespad=0)
panel_label(340, 520, "f)")
fig.text(fx(351), fy(586), "Survival (%)", rotation=90, fontsize=8.5,
         fontweight='bold', ha='center', va='center')
fig.text(fx(466), fy(677), "Time (Days)", fontsize=8.5, fontweight='bold',
         ha='center', va='center')

# statistics box
fig.add_artist(Rectangle((fx(379), fy(738)), (580 - 379) / W,
                         (738 - 687) / H, transform=fig.transFigure,
                         fill=False, ec='black', lw=1.6))
for i, line in enumerate(stats_lines):
    fig.text(fx(480), fy(695 + 12 * i), line, fontsize=6.8, ha='center',
             va='center', color='#111111')
fig.add_artist(Line2D([fx(441), fx(519)], [fy(701), fy(701)],
                      transform=fig.transFigure, color='#111111', lw=0.7))

fig.savefig("out.png", dpi=100)
